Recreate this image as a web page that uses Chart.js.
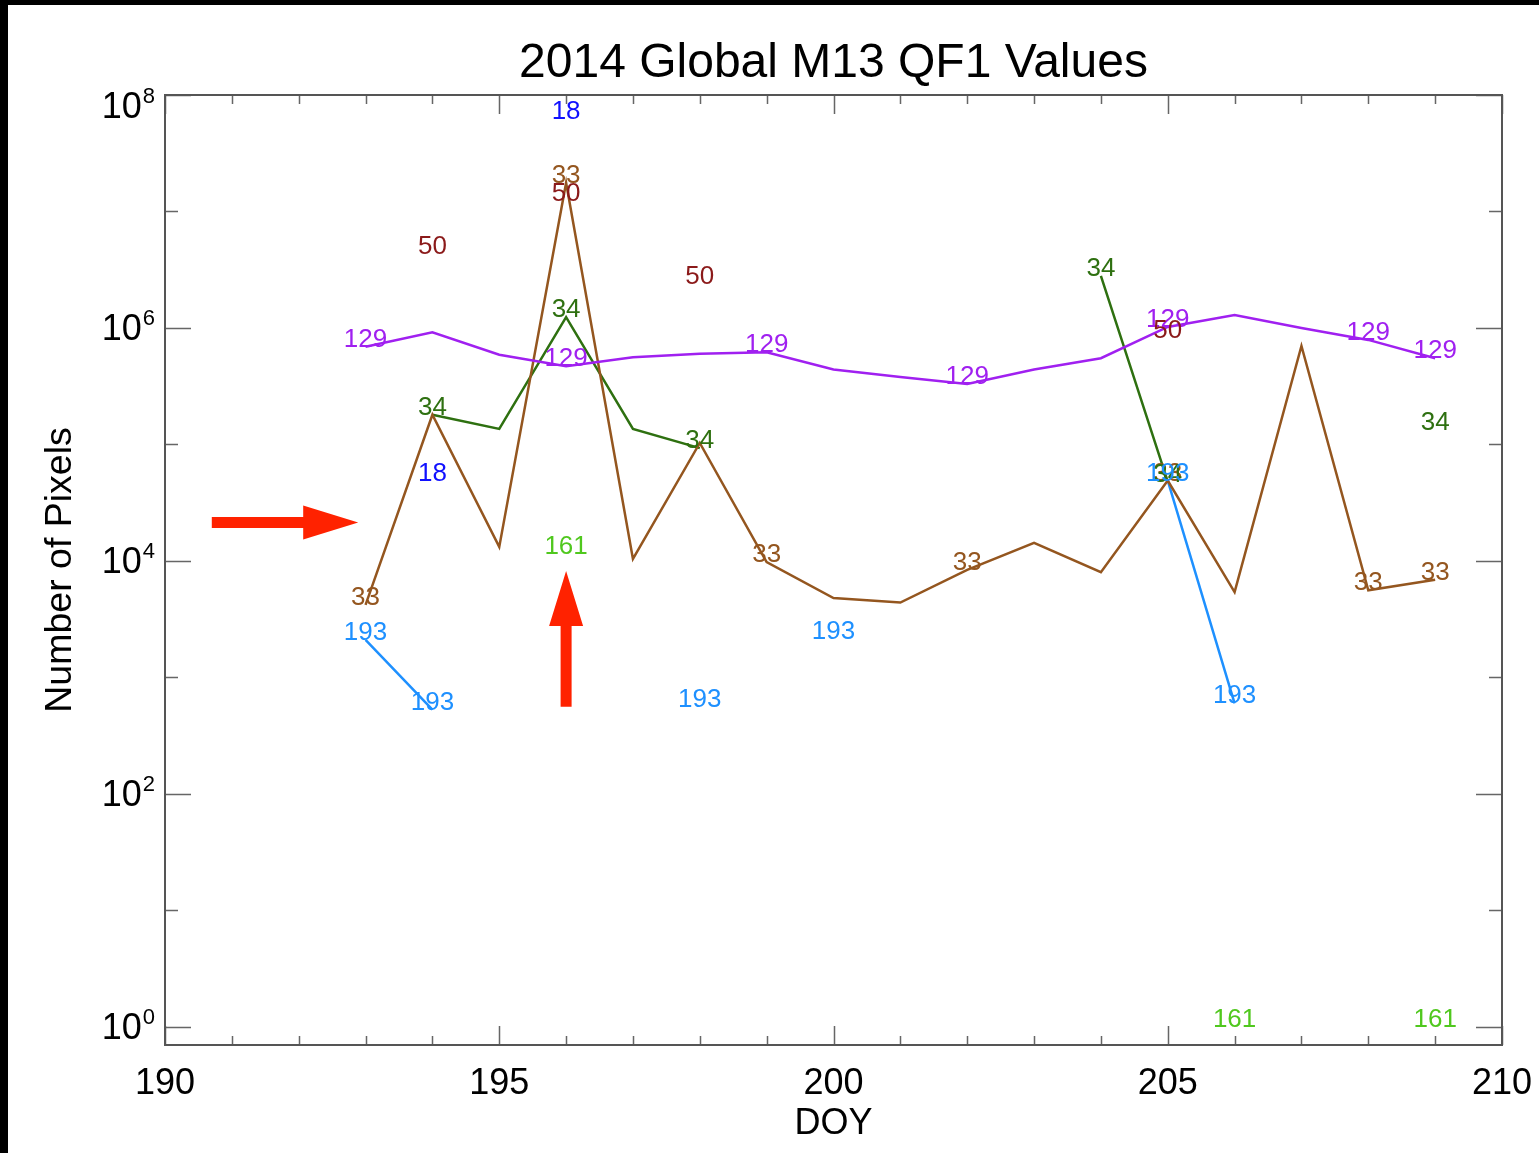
<!DOCTYPE html>
<html>
<head>
<meta charset="utf-8">
<title>2014 Global M13 QF1 Values</title>
<script src="https://cdn.jsdelivr.net/npm/chart.js@4.4.1/dist/chart.umd.min.js"></script>
<style>
  html, body { margin: 0; padding: 0; background: #000; }
  #frame { position: absolute; left: 8px; top: 5px; width: 1531px; height: 1148px; background: #fff; }
</style>
</head>
<body>
<div id="frame"><canvas id="qf1-chart"></canvas></div>
<script>
// day of year for every sample
const days = [193, 194, 195, 196, 197, 198, 199, 200, 201, 202, 203, 204, 205, 206, 207, 208, 209];

// number of pixels per QF1 value (null = not present that day)
const qf129 = [6.9e5, 9.2e5, 5.9e5, 4.7e5, 5.6e5, 6.0e5, 6.2e5, 4.4e5, 3.8e5, 3.3e5, 4.4e5, 5.5e5, 1.02e6, 1.29e6, 1.0e6, 7.9e5, 5.5e5];
const qf33 = [4.2e3, 1.8e5, 1.32e4, 1.76e7, 1.04e4, 1.03e5, 9.8e3, 4.8e3, 4.4e3, 8.4e3, 1.43e4, 8.0e3, 4.9e4, 5.4e3, 7.0e5, 5.6e3, 6.9e3];
const qf34 = [null, 1.8e5, 1.36e5, 1.24e6, 1.36e5, 9.3e4, null, null, null, null, null, 2.8e6, 4.8e4, null, null, null, 1.33e5];
const qf193 = [2.1e3, 5.3e2, null, null, null, 5.6e2, null, 2.15e3, null, null, null, null, 4.9e4, 6.0e2, null, null, null];
const qf18 = [null, 4.9e4, null, 6.2e7, null, null, null, null, null, null, null, null, null, null, null, null, null];
const qf50 = [null, 4.3e6, null, 1.23e7, null, 2.4e6, null, null, null, null, null, null, 8.2e5, null, null, null, null];
const qf161 = [null, null, null, 1.15e4, null, null, null, null, null, null, null, null, null, 1, null, null, 1];

// days on which the value is written next to the curve
const tag129 = [193, 196, 199, 202, 205, 208, 209];
const tag33 = [193, 196, 199, 202, 205, 208, 209];
const tag34 = [194, 196, 198, 204, 205, 209];
const tag193 = [193, 194, 198, 200, 205, 206];
const tag18 = [194, 196];
const tag50 = [194, 196, 198, 205];
const tag161 = [196, 206, 209];

// the two red arrows, in data units [doy, pixels]
const arrows = [
  { from: [190.70, 2.14e4], to: [192.89, 2.14e4] },
  { from: [196.0, 5.6e2], to: [196.0, 8.2e3] },
];

const series = [
  { name: '129', color: '#a020f0', values: qf129, tags: tag129 },
  { name: '33', color: '#94561f', values: qf33, tags: tag33 },
  { name: '34', color: '#2e7010', values: qf34, tags: tag34 },
  { name: '193', color: '#1e90ff', values: qf193, tags: tag193 },
  { name: '18', color: '#1010ff', values: qf18, tags: tag18 },
  { name: '50', color: '#8b1a1a', values: qf50, tags: tag50 },
  { name: '161', color: '#50c81e', values: qf161, tags: tag161 },
];

const FONT = "'Liberation Sans', Arial, Helvetica, sans-serif";

const tagPlugin = {
  id: 'tags',
  afterDatasetsDraw(chart) {
    const ctx = chart.ctx;
    ctx.save();
    ctx.font = '26px ' + FONT;
    ctx.textAlign = 'center';
    ctx.textBaseline = 'alphabetic';
    chart.data.datasets.forEach((ds, i) => {
      const meta = chart.getDatasetMeta(i);
      ds.data.forEach((pt, j) => {
        if (pt.y === null || !ds.tags.includes(pt.x)) return;
        const el = meta.data[j];
        ctx.fillStyle = ds.borderColor;
        ctx.fillText(ds.label, el.x, el.y);
      });
    });
    ctx.restore();
  }
};

const axesPlugin = {
  id: 'idlAxes',
  afterDraw(chart) {
    const { ctx, chartArea: a, scales: { x, y } } = chart;
    ctx.save();
    ctx.strokeStyle = '#666';
    ctx.lineWidth = 1.5;
    ctx.beginPath();
    for (let d = 190; d <= 210; d++) {
      const px = Math.round(x.getPixelForValue(d)) + 0.5;
      const len = d % 5 === 0 ? 19 : 9;
      ctx.moveTo(px, a.bottom); ctx.lineTo(px, a.bottom - len);
      ctx.moveTo(px, a.top); ctx.lineTo(px, a.top + len);
    }
    for (let k = 0; k <= 8; k++) {
      const py = Math.round(y.getPixelForValue(Math.pow(10, k))) + 0.5;
      const len = k % 2 === 0 ? 26 : 13;
      ctx.moveTo(a.left, py); ctx.lineTo(a.left + len, py);
      ctx.moveTo(a.right, py); ctx.lineTo(a.right - len, py);
    }
    ctx.stroke();
    ctx.lineWidth = 2;
    ctx.strokeStyle = '#555';
    ctx.strokeRect(a.left, a.top, a.right - a.left, a.bottom - a.top);

    // log labels 10^k
    ctx.fillStyle = '#000';
    ctx.textBaseline = 'alphabetic';
    ctx.textAlign = 'right';
    const rightEdge = a.left - 10;
    for (let k = 0; k <= 8; k += 2) {
      const py = y.getPixelForValue(Math.pow(10, k));
      const base = Math.max(py + 12.5, a.top + 23);
      ctx.font = '22px ' + FONT;
      const sup = String(k);
      const sw = ctx.measureText(sup).width;
      ctx.fillText(sup, rightEdge, base - 15);
      ctx.font = '36px ' + FONT;
      ctx.fillText('10', rightEdge - sw - 1, base);
    }

    // red arrows
    ctx.fillStyle = '#ff2200';
    arrows.forEach(ar => {
      const x0 = x.getPixelForValue(ar.from[0]), y0 = y.getPixelForValue(ar.from[1]);
      const x1 = x.getPixelForValue(ar.to[0]), y1 = y.getPixelForValue(ar.to[1]);
      const L = Math.hypot(x1 - x0, y1 - y0);
      const ux = (x1 - x0) / L, uy = (y1 - y0) / L;
      const nx = -uy, ny = ux;
      const head = 55, hw = 17, sw = 5.5;
      const bx = x1 - ux * head, by = y1 - uy * head;
      ctx.beginPath();
      ctx.moveTo(x0 + nx * sw, y0 + ny * sw);
      ctx.lineTo(bx + nx * sw, by + ny * sw);
      ctx.lineTo(bx + nx * hw, by + ny * hw);
      ctx.lineTo(x1, y1);
      ctx.lineTo(bx - nx * hw, by - ny * hw);
      ctx.lineTo(bx - nx * sw, by - ny * sw);
      ctx.lineTo(x0 - nx * sw, y0 - ny * sw);
      ctx.closePath();
      ctx.fill();
    });
    ctx.restore();
  }
};

const config = {
  type: 'line',
  data: {
    datasets: series.map(s => ({
      label: s.name,
      tags: s.tags,
      data: days.map((d, i) => ({ x: d, y: s.values[i] })),
      borderColor: s.color,
      backgroundColor: s.color,
      borderWidth: 2.5,
      pointRadius: 0,
      tension: 0,
      spanGaps: false,
    })),
  },
  options: {
    responsive: true,
    maintainAspectRatio: false,
    animation: false,
    devicePixelRatio: 1,
    layout: { padding: { top: 0, left: 0, right: 37, bottom: 0 } },
    plugins: {
      legend: { display: false },
      tooltip: { enabled: false },
      title: {
        display: true,
        fullSize: false,
        text: '2014 Global M13 QF1 Values',
        color: '#000',
        font: { family: FONT, size: 48, weight: 'normal', lineHeight: 1.2 },
        padding: { top: 30.2, bottom: 2.2 },
      },
    },
    scales: {
      x: {
        type: 'linear',
        min: 190,
        max: 210,
        grid: { display: false, drawTicks: false },
        border: { display: false },
        ticks: {
          stepSize: 5,
          autoSkip: false,
          maxRotation: 0,
          padding: 17,
          color: '#000',
          font: { family: FONT, size: 36 },
        },
        title: {
          display: true,
          text: 'DOY',
          color: '#000',
          font: { family: FONT, size: 36 },
          padding: { top: 0, bottom: 7.4 },
        },
        afterFit(scale) {
          scale.height = 108;
          scale.paddingLeft = 0;
          scale.paddingRight = 0;
        },
      },
      y: {
        type: 'logarithmic',
        min: 0.7,
        max: 1e8,
        grid: { display: false, drawTicks: false },
        border: { display: false },
        ticks: { display: false },
        title: {
          display: true,
          text: 'Number of Pixels',
          color: '#000',
          font: { family: FONT, size: 37.5 },
          padding: { top: 30.5, bottom: 0 },
        },
        afterFit(scale) {
          scale.width = 157;
          scale.paddingTop = 0;
          scale.paddingBottom = 0;
        },
      },
    },
  },
  plugins: [tagPlugin, axesPlugin],
};

const ctx = document.getElementById('qf1-chart').getContext('2d');
window.qf1Chart = new Chart(ctx, config);
</script>
</body>
</html>
